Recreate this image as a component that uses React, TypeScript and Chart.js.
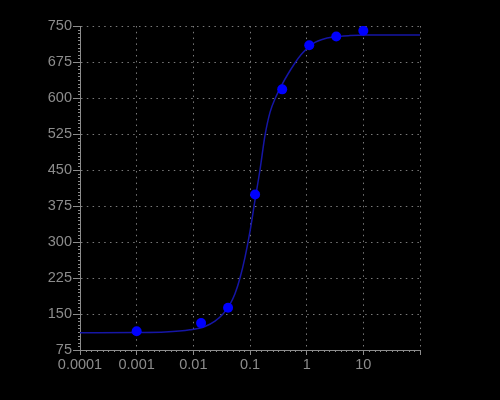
import React, { useEffect, useRef } from 'react';
import { Chart, registerables } from 'chart.js';

Chart.register(...registerables);

// Measured data points (concentration, response)
const doseX = [0.001, 0.0137, 0.041, 0.123, 0.37, 1.11, 3.33, 10];
const responseY = [114, 131, 163, 399, 618, 710, 728, 740];

// Fitted curve
const fitX = [0.0001, 0.001, 0.00316, 0.00873, 0.01607, 0.0241, 0.0334, 0.0443, 0.0543, 0.0666, 0.0816, 0.1, 0.1225, 0.15, 0.184, 0.2255, 0.288, 0.367, 0.468, 0.622, 0.794, 1.056, 1.4, 1.87, 2.92, 5.82, 11.6, 100];
const fitY = [111, 111.5, 112.5, 117, 124, 135, 150, 170, 192, 225, 268, 322, 387, 450, 522, 570, 603, 628, 650, 673, 690, 705, 716, 722, 727, 730, 731, 731];

const xTickValues = [0.0001, 0.001, 0.01, 0.1, 1, 10, 100];
const xTickLabels = ['0.0001', '0.001', '0.01', '0.1', '1', '10', ''];
const yMin = 75;
const yMax = 750;
const yStep = 75;

const AXIS = '#8c8c8c';
const GRID = '#7a7a7a';
const FONT = { family: 'Liberation Sans', size: 14.5 };

const minorTicks = {
  id: 'minorTicks',
  afterDraw(chart: any) {
    const { ctx, scales } = chart;
    const xs = scales.x;
    const ys = scales.y;
    ctx.save();
    ctx.strokeStyle = AXIS;
    ctx.lineWidth = 1;
    ctx.beginPath();
    const lo = Math.log10(xTickValues[0]);
    const hi = Math.log10(xTickValues[xTickValues.length - 1]);
    for (let d = lo; d < hi; d++) {
      for (let k = 1; k < 10; k++) {
        const px = Math.round(xs.getPixelForValue(Math.pow(10, d + k / 10))) + 0.5;
        ctx.moveTo(px, ys.bottom);
        ctx.lineTo(px, ys.bottom + 2);
      }
    }
    for (let v = yMin; v < yMax; v += yStep) {
      for (let k = 1; k < 10; k++) {
        const py = Math.round(ys.getPixelForValue(v + (yStep * k) / 10)) + 0.5;
        ctx.moveTo(xs.left - 2, py);
        ctx.lineTo(xs.left, py);
      }
    }
    ctx.stroke();
    ctx.restore();
  },
};

export default function App() {
  const ref = useRef<HTMLCanvasElement>(null);
  useEffect(() => {
    document.body.style.margin = '0';
    document.body.style.background = '#000';
    const chart = new Chart(ref.current as HTMLCanvasElement, {
      type: 'scatter',
      data: {
        datasets: [
          {
            data: fitX.map((x, i) => ({ x, y: fitY[i] })),
            showLine: true,
            borderColor: '#1616a6',
            borderWidth: 1.5,
            pointRadius: 0,
            cubicInterpolationMode: 'monotone',
            order: 2,
          } as any,
          {
            data: doseX.map((x, i) => ({ x, y: responseY[i] })),
            backgroundColor: '#0000ff',
            borderColor: '#0000ff',
            pointRadius: 5,
            borderWidth: 0,
            order: 1,
          },
        ],
      },
      options: {
        responsive: false,
        animation: false,
        layout: { padding: { left: 0, top: 26, right: 80, bottom: 0 } },
        plugins: { legend: { display: false }, tooltip: { enabled: false } },
        scales: {
          x: {
            type: 'logarithmic',
            min: xTickValues[0],
            max: xTickValues[xTickValues.length - 1],
            afterBuildTicks: (s: any) => {
              s.ticks = xTickValues.map((v) => ({ value: v }));
            },
            afterFit: (s: any) => {
              s.height = 50;
            },
            ticks: {
              color: AXIS,
              font: FONT,
              padding: 1,
              autoSkip: false,
              maxRotation: 0,
              callback: (_v: any, i: number) => xTickLabels[i],
            },
            grid: { color: GRID, tickColor: AXIS, tickLength: 5, tickBorderDash: [], lineWidth: 1 },
            border: { color: AXIS, dash: [1.5, 4.3] },
          } as any,
          y: {
            min: yMin,
            max: yMax,
            afterFit: (s: any) => {
              s.width = 80;
            },
            ticks: { stepSize: yStep, color: AXIS, font: FONT, padding: 1 },
            grid: { color: GRID, tickColor: AXIS, tickLength: 7, tickBorderDash: [], lineWidth: 1 },
            border: { color: AXIS, dash: [1.5, 4.3] },
          } as any,
        },
      },
      plugins: [minorTicks],
    });
    return () => chart.destroy();
  }, []);
  return (
    <div style={{ width: 500, height: 400, background: '#000' }}>
      <canvas ref={ref} width={500} height={400} />
    </div>
  );
}
